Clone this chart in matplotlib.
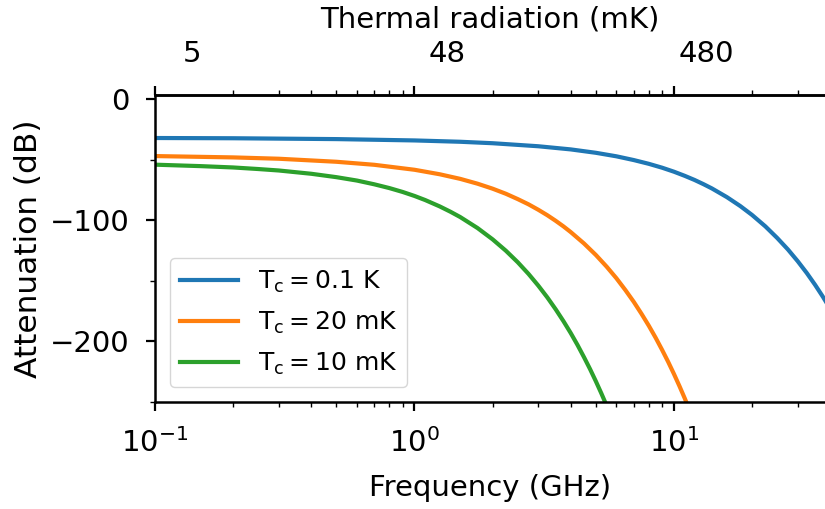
import matplotlib
matplotlib.use("Agg")
import matplotlib.pyplot as plt
from matplotlib.ticker import MultipleLocator

# ----------------------------------------------------------
# Data
# ----------------------------------------------------------

# Tc = 0.1 K
freq_100mk = [0.1, 0.2, 0.5, 1, 1.5, 2, 3, 4, 5, 6, 7, 8, 9, 10, 11, 12, 13,
              14, 16, 18, 20, 22.5, 25, 27.5, 30, 32.5, 35, 37.5, 40]
att_100mk = [-32.2, -32.4, -33.1, -34.2, -35.3, -36.5, -39.0, -41.6, -44.4,
             -47.3, -50.4, -53.5, -56.7, -60.0, -63.4, -66.8, -70.3, -73.8,
             -81.0, -88.3, -95.7, -105.1, -114.7, -124.2, -133.9, -143.6,
             -153.4, -163.2, -173.1]

# Tc = 20 mK
freq_20mk = [0.1, 0.2, 0.3, 0.5, 0.7, 1, 1.25, 1.5, 1.75, 2, 2.25, 2.5, 2.75,
             3, 3.25, 3.5, 3.75, 4, 4.5, 5, 5.5, 6, 6.5, 7, 7.5, 8, 8.5, 9,
             9.5, 10, 10.5, 11, 11.5]
att_20mk = [-47.1, -48.2, -49.3, -51.8, -54.3, -58.4, -62.1, -65.9, -69.9,
            -74.0, -78.2, -82.6, -86.9, -91.4, -95.9, -100.5, -105.1, -109.8,
            -119.2, -128.7, -138.3, -147.9, -157.7, -167.4, -177.3, -187.1,
            -197.0, -207.0, -216.9, -226.9, -236.9, -246.9, -256.9]

# Tc = 10 mK
freq_10mk = [0.1, 0.15, 0.2, 0.25, 0.3, 0.4, 0.5, 0.6, 0.7, 0.8, 0.9, 1.0,
             1.1, 1.25, 1.375, 1.5, 1.75, 2, 2.25, 2.5, 2.75, 3, 3.25, 3.5,
             3.75, 4, 4.25, 4.5, 4.75, 5, 5.25, 5.5]
att_10mk = [-54.2, -55.4, -56.5, -57.8, -59.0, -61.7, -64.5, -67.3, -70.4,
            -73.5, -76.7, -80.0, -83.4, -88.6, -93.0, -97.4, -106.5, -115.8,
            -125.2, -134.7, -144.3, -154.0, -163.7, -173.5, -183.3, -193.1,
            -203.0, -213.0, -222.9, -232.9, -242.9, -252.9]

labels = [r"$\mathrm{T_c = 0.1\ K}$",
          r"$\mathrm{T_c = 20\ mK}$",
          r"$\mathrm{T_c = 10\ mK}$"]
colors = ["#1f77b4", "#ff7f0e", "#2ca02c"]

# top axis: thermal radiation labels (mK)
top_ticks_mk = [5, 48, 480]
top_ticklabels = ["5", "48", "480"]
mk_per_ghz = 36.0

# ----------------------------------------------------------
# Figure
# ----------------------------------------------------------

plt.rcParams["font.size"] = 21

fig = plt.figure(figsize=(8.25, 5.09), dpi=100)
ax = fig.add_axes([0.1879, 0.2102, 0.8121, 0.6032])

ax.plot(freq_100mk, att_100mk, color=colors[0], lw=3, label=labels[0])
ax.plot(freq_20mk, att_20mk, color=colors[1], lw=3, label=labels[1])
ax.plot(freq_10mk, att_10mk, color=colors[2], lw=3, label=labels[2])

ax.set_xscale("log")
ax.set_xlim(0.1, 38.2)
ax.set_ylim(-250, 3.3)
ax.set_yticks([0, -100, -200])
ax.yaxis.set_minor_locator(MultipleLocator(50))

ax.spines["right"].set_visible(False)
for s in ["left", "bottom", "top"]:
    ax.spines[s].set_linewidth(1.8)

ax.tick_params(which="major", length=6.5, width=1.6, pad=12, top=True,
               labeltop=False)
ax.tick_params(which="minor", length=3.6, width=1.0, top=True)

ax.set_xlabel("Frequency (GHz)", labelpad=12)
ax.set_ylabel("Attenuation (dB)", fontsize=22.5, labelpad=4.5)

ax.legend(loc="lower left", fontsize=18, handlelength=2.3,
          labelspacing=0.6, borderaxespad=0.6)

# secondary axis on top
sec = ax.secondary_xaxis("top", functions=(lambda f: f * mk_per_ghz,
                                           lambda t: t / mk_per_ghz))
sec.set_xticks(top_ticks_mk)
sec.set_xticklabels(top_ticklabels)
sec.xaxis.set_minor_locator(plt.NullLocator())
sec.tick_params(which="both", length=0, pad=19.5)
sec.spines["top"].set_linewidth(1.8)
sec.set_xlabel("Thermal radiation (mK)", labelpad=9)

plt.savefig("out.png", dpi=100)
